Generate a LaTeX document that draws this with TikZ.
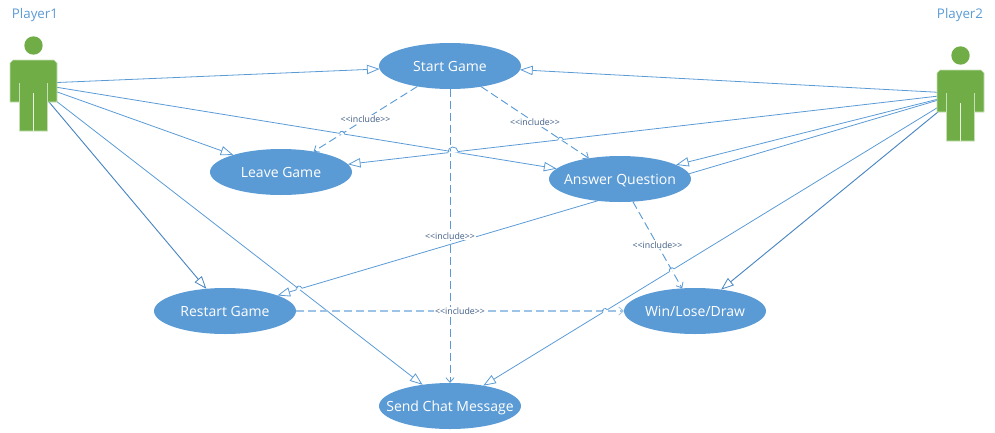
\documentclass[tikz,border=0pt]{standalone}
\usepackage{fontspec}
\setmainfont{Open Sans}
\usetikzlibrary{shapes.geometric,arrows.meta}
\definecolor{ublue}{HTML}{5B9BD5}
\definecolor{dblue}{HTML}{4A86C2}
\definecolor{lblue}{HTML}{9DC3E6}
\definecolor{ugreen}{HTML}{70AD47}
\definecolor{lgreen}{HTML}{C5E0B4}
\definecolor{inkc}{HTML}{3F5C85}
\pgfdeclarelayer{under}
\pgfsetlayers{under,main}
\newcommand\inctxt{{<}{<}include{>}{>}}
\newcommand\ucname[1]{\makebox[0pt][c]{#1}}
\tikzset{
  x=.75pt,y=.75pt,
  usecase/.style={ellipse,fill=ublue,text=white,minimum width=106.5pt,minimum height=34.5pt,inner sep=0pt,outer sep=0pt,text height=9.8pt,text depth=2pt,font=\fontsize{10.5pt}{12pt}\selectfont},
  actorbox/.style={rectangle,minimum width=35pt,minimum height=71pt,inner sep=0pt,outer sep=0pt},
  actorname/.style={text=ublue,font=\fontsize{10pt}{12pt}\selectfont,inner sep=0pt},
  assoc/.style={draw=ublue,line width=.6pt,-{Triangle[fill=white,length=9.5pt,width=7pt,line width=.6pt]}},
  assocdark/.style={assoc,draw=dblue,line width=.7pt},
  incl/.style={draw=ublue,line width=.7pt,dash pattern=on 6pt off 3pt,-{Straight Barb[length=3.5pt,width=6pt,line width=.6pt]}},
  incllight/.style={incl,draw=lblue,line width=1.1pt},
  incltext/.style={fill=white,text=inkc,inner sep=.6pt,font=\fontsize{6.6pt}{8pt}\selectfont},
  person/.pic={
    \draw[fill=ugreen,draw=lgreen,line width=.4pt] (-20.5,23.5)--(20.5,23.5)--(23.5,20.5)--(23.5,-18.5)--(14,-18.5)--(14,-47.5)--(-14,-47.5)--(-14,-18.5)--(-23.5,-18.5)--(-23.5,20.5)--cycle;
    \fill[ugreen] (0,38) circle (9.2);
    \draw[lgreen,line width=.7pt] (-14,-18.5)--(-14,.5) (14,-18.5)--(14,.5);
    \draw[white!85!ugreen,line width=.6pt] (0,-47.5)--(0,-9.5);
  }
}
\newcommand\jump[4]{%
  \draw[white,line width=1.4pt] ([shift={(#3:-#4)}]#1,#2) -- ([shift={(#3:#4)}]#1,#2);
  \draw[ublue,line width=.6pt] ([shift={(#3+180:#4)}]#1,#2) arc[start angle=#3+180,end angle=#3,radius=#4];}
\begin{document}
\begin{tikzpicture}
\useasboundingbox (0,0) rectangle (995,-432);
\node[usecase] (start) at (450,-66) {\ucname{Start Game}};
\node[usecase] (leave) at (281,-172) {\ucname{Leave Game}};
\node[usecase] (answer) at (620,-179) {\ucname{Answer Question}};
\node[usecase] (restart) at (225,-311) {\ucname{Restart Game}};
\node[usecase] (win) at (695,-311) {\ucname{Win/Lose/Draw}};
\node[usecase] (chat) at (450,-406) {\ucname{Send Chat Message}};
\node[actorbox] (p1) at (33.5,-83.5) {};
\node[actorbox] (p2) at (960.5,-93.5) {};
\pic at (p1.center) {person};
\pic at (p2.center) {person};
\node[actorname] (p1name) at (35,-15) {Player1};
\node[actorname] (p2name) at (960,-15) {Player2};
\begin{pgfonlayer}{under}
\draw[assoc] (p1.center) -- (start);
\draw[assoc] (p1.center) -- (leave);
\draw[assoc] (p1.center) -- (answer);
\draw[assocdark] (p1.center) -- (restart);
\draw[assoc] (p1.center) -- (chat);
\draw[assoc] (p2.center) -- (start);
\draw[assoc] (p2.center) -- (leave);
\draw[assoc] (p2.center) -- (answer);
\draw[assoc] (p2.center) -- (restart);
\draw[assoc] (p2.center) -- (chat);
\draw[assocdark] (p2.center) -- (win);
\draw[incl] (start) -- node[incltext] {\inctxt} (leave);
\draw[incl] (start) -- node[incltext] {\inctxt} (answer);
\draw[incl] (start) -- node[incltext] {\inctxt} (chat);
\draw[incl] (answer) -- node[incltext] {\inctxt} (win);
\draw[incllight] (restart) -- node[incltext] {\inctxt} (win);
\jump{342}{-133.7}{-9.2}{2.5}
\jump{453}{-152}{6.6}{5}
\jump{560.4}{-139.7}{6.6}{2.5}
\jump{671.8}{-270.2}{31.5}{2.5}
\jump{605}{-311}{31.5}{2.5}
\jump{299}{-289}{16.5}{3}
\end{pgfonlayer}
\end{tikzpicture}
\end{document}
